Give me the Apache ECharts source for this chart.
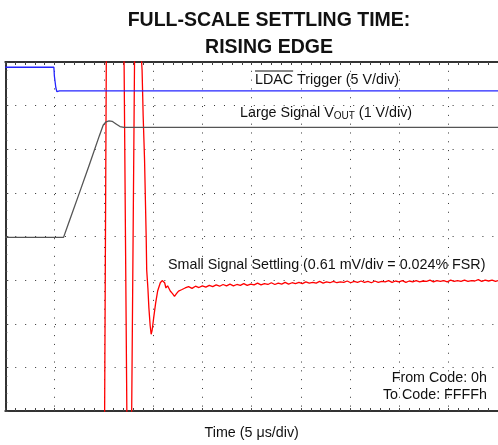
<!DOCTYPE html>
<html>
<head>
<meta charset="utf-8">
<script src="https://cdn.jsdelivr.net/npm/echarts@6/dist/echarts.min.js"></script>
<style>
  html, body { margin: 0; padding: 0; background: #fff; }
  #chart { width: 498px; height: 445px; }
</style>
</head>
<body>
<div id="chart"></div>
<script>
// Time axis in microseconds (5 us/div, 10 divisions); vertical axis in screen divisions (8 divisions).
const timeTicks = [0, 5, 10, 15, 20, 25, 30, 35, 40, 45, 50];
const divTicks = [0, 1, 2, 3, 4, 5, 6, 7, 8];

// LDAC trigger (5 V/div)
const ldacTime  = [0, 4.93, 4.98, 5.10, 5.13, 5.23, 5.40, 5.50, 50];
const ldacLevel = [7.88, 7.88, 7.68, 7.66, 7.41, 7.32, 7.32, 7.34, 7.34];

// Large signal VOUT (1 V/div)
const voutTime  = [0, 5.91, 6.51, 7.52, 8.52, 9.53, 9.93, 10.23, 10.53, 10.84, 11.24, 11.64, 12.04, 50];
const voutLevel = [3.98, 3.98, 4.36, 5.00, 5.64, 6.30, 6.55, 6.63, 6.65, 6.64, 6.58, 6.52, 6.50, 6.50];

// Small signal settling (0.61 mV/div); values beyond 0..8 are off screen and get clipped
const settleTime = [
  0, 10.06, 10.27, 12.02, 12.37, 12.79, 13.15, 13.76, 13.88, 13.99, 14.13, 14.30, 14.35, 14.47,
  14.57, 14.70, 14.80, 14.90, 15.06, 15.26, 15.46, 15.73, 15.92, 16.07, 16.17, 16.30, 16.47,
  16.74, 16.97, 17.17, 17.37, 17.58, 17.88, 18.25,
  18.6, 18.95, 19.3, 19.65, 20.0, 20.35, 20.7, 21.05, 21.4, 21.75, 22.1, 22.45, 22.8, 23.15,
  23.5, 23.85, 24.2, 24.55, 24.9, 25.25, 25.6, 25.95, 26.3, 26.65, 27.0, 27.35, 27.7, 28.05,
  28.4, 28.75, 29.1, 29.45, 29.8, 30.15, 30.5, 30.85, 31.2, 31.55, 31.9, 32.25, 32.6, 32.95,
  33.3, 33.65, 34.0, 34.35, 34.7, 35.05, 35.4, 35.75, 36.1, 36.45, 36.8, 37.15, 37.5, 37.85,
  38.2, 38.55, 38.9, 39.25, 39.6, 39.95, 40.3, 40.65, 41.0, 41.35, 41.7, 42.05, 42.4, 42.75,
  43.1, 43.45, 43.8, 44.15, 44.5, 44.85, 45.2, 45.55, 45.9, 46.25, 46.6, 46.95, 47.3, 47.65,
  48.0, 48.35, 48.7, 49.05, 49.4, 49.75, 50.0
];
const settleLevel = [
  -2, -1, 9, 9, -1, -1, 9, 8.3, 7.82, 6.77, 5.77, 3.96, 3.23, 2.82,
  2.37, 1.96, 1.76, 1.85, 2.14, 2.48, 2.75, 2.94, 2.99, 2.99, 2.94, 2.82, 2.87,
  2.75, 2.69, 2.63, 2.69, 2.75, 2.78, 2.82,
  2.85, 2.81, 2.86, 2.83, 2.87, 2.84, 2.88, 2.85, 2.89, 2.86, 2.90, 2.87, 2.91, 2.87,
  2.90, 2.88, 2.92, 2.88, 2.91, 2.89, 2.93, 2.89, 2.92, 2.90, 2.94, 2.90, 2.93, 2.91,
  2.95, 2.91, 2.94, 2.92, 2.95, 2.92, 2.96, 2.93, 2.95, 2.93, 2.97, 2.93, 2.96, 2.94,
  2.97, 2.94, 2.96, 2.95, 2.98, 2.94, 2.97, 2.95, 2.98, 2.95, 2.97, 2.94, 2.98, 2.95,
  2.97, 2.96, 2.99, 2.95, 2.98, 2.96, 2.99, 2.95, 2.98, 2.96, 2.99, 2.96, 2.98, 2.97,
  3.00, 2.96, 2.99, 2.97, 2.99, 2.96, 3.00, 2.97, 2.99, 2.97, 3.00, 2.97, 2.99, 2.98,
  3.01, 2.97, 3.00, 2.98, 3.00, 2.97, 2.99
];

const FONT = "'Liberation Sans', Arial, Helvetica, sans-serif";
const LABEL_FONT = '14.3px ' + FONT;
const pair = (xs, ys) => xs.map((x, i) => [x, ys[i]]);

const chart = echarts.init(document.getElementById('chart'), null, { renderer: 'canvas' });

// width of the LDAC label, used for its overline
const ctx = document.createElement('canvas').getContext('2d');
ctx.font = LABEL_FONT;
const ldacWidth = ctx.measureText('LDAC').width;

const ldacX = 255, ldacY = 80;

const frameAxis = {
  type: 'value',
  min: timeTicks[0],
  max: timeTicks[timeTicks.length - 1],
  interval: timeTicks[1] - timeTicks[0],
  axisLine: { show: true, onZero: false, lineStyle: { color: '#333', width: 2 } },
  axisTick: { show: true, inside: true, length: 3, lineStyle: { color: '#444' } },
  minorTick: { show: true, splitNumber: 5, length: 3, lineStyle: { color: '#444' } },
  axisLabel: { show: false }
};

chart.setOption({
  animation: false,
  backgroundColor: '#fff',
  title: {
    text: 'FULL-SCALE SETTLING TIME:\nRISING EDGE',
    left: 264,
    top: 2,
    textAlign: 'center',
    textStyle: { fontFamily: FONT, fontWeight: 'bold', fontSize: 19.5, lineHeight: 27, color: '#111' }
  },
  grid: { left: 5.3, top: 62, width: 497, height: 352.3, containLabel: false },
  xAxis: [
    Object.assign({}, frameAxis, {
      position: 'bottom',
      name: 'Time (5 \u03bcs/div)',
      nameLocation: 'middle',
      nameGap: 15,
      nameTextStyle: { fontFamily: FONT, fontSize: 14.3, color: '#111' },
      splitLine: { show: true, lineStyle: { color: '#333', width: 1, type: [1, 7.81] } }
    }),
    Object.assign({}, frameAxis, { position: 'top', splitLine: { show: false } })
  ],
  yAxis: {
    type: 'value',
    min: divTicks[0],
    max: divTicks[divTicks.length - 1],
    interval: divTicks[1] - divTicks[0],
    axisLine: { show: true, onZero: false, lineStyle: { color: '#333', width: 2 } },
    axisTick: { show: true, inside: true, length: 3, lineStyle: { color: '#444' } },
    minorTick: { show: true, splitNumber: 5, length: 2, lineStyle: { color: '#444' } },
    axisLabel: { show: false },
    splitLine: { show: true, lineStyle: { color: '#333', width: 1, type: [1, 8.94] } }
  },
  graphic: [
    {
      type: 'text', x: ldacX, y: ldacY,
      style: { text: 'LDAC Trigger (5 V/div)', font: LABEL_FONT, fill: '#111', align: 'left', verticalAlign: 'middle' }
    },
    {
      type: 'line',
      shape: { x1: ldacX, y1: 71, x2: ldacX + ldacWidth, y2: 71 },
      style: { stroke: '#111', lineWidth: 1 }
    },
    {
      type: 'text', x: 240, y: 113,
      style: {
        text: 'Large Signal V{sub|OUT} (1 V/div)',
        font: LABEL_FONT, fill: '#111', align: 'left', verticalAlign: 'middle',
        rich: { sub: { fontSize: 10, fontFamily: FONT, fill: '#111', padding: [7, 0, 0, 0] } }
      }
    },
    {
      type: 'text', x: 168, y: 265,
      style: { text: 'Small Signal Settling (0.61 mV/div = 0.024% FSR)', font: LABEL_FONT, fill: '#111', align: 'left', verticalAlign: 'middle' }
    },
    {
      type: 'text', x: 487, y: 378,
      style: { text: 'From Code: 0h', font: LABEL_FONT, fill: '#111', align: 'right', verticalAlign: 'middle' }
    },
    {
      type: 'text', x: 487, y: 395,
      style: { text: 'To Code: FFFFh', font: LABEL_FONT, fill: '#111', align: 'right', verticalAlign: 'middle' }
    }
  ],
  series: [
    {
      name: 'Small Signal Settling', type: 'line', clip: true, showSymbol: false,
      data: pair(settleTime, settleLevel),
      lineStyle: { color: '#ff0000', width: 1.3 }
    },
    {
      name: 'Large Signal VOUT', type: 'line', clip: true, showSymbol: false,
      data: pair(voutTime, voutLevel),
      lineStyle: { color: '#555', width: 1.3 }
    },
    {
      name: 'LDAC Trigger', type: 'line', clip: true, showSymbol: false,
      data: pair(ldacTime, ldacLevel),
      lineStyle: { color: '#2424ff', width: 1.3 }
    }
  ]
});
</script>
</body>
</html>
